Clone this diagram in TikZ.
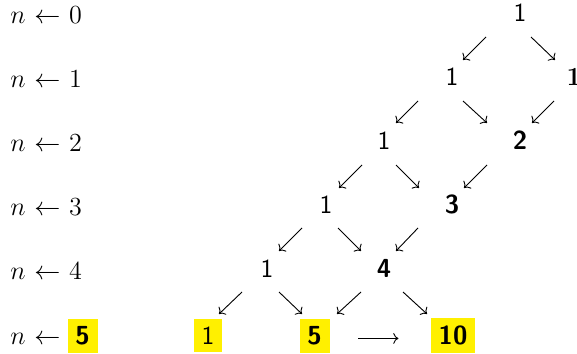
\documentclass[tikz,border=0pt,12pt]{standalone}
\usetikzlibrary{arrows.meta}
\definecolor{hl}{RGB}{255,240,0}
\begin{document}
\begin{tikzpicture}[x=0.46pt,y=-0.46pt,
  num/.style={inner sep=0pt, anchor=base, font=\sffamily},
  bnum/.style={inner sep=0pt, anchor=base, font=\sffamily\bfseries},
  rbnum/.style={inner sep=0pt, anchor=base, font=\rmfamily\bfseries},
  hbox/.style={fill=hl, inner sep=3.6pt, anchor=base},
  lab/.style={inner sep=0pt, anchor=base west},
  arr/.style={line width=0.42pt, -{To[length=2.4pt,width=5pt]}}]
\useasboundingbox (0,0) rectangle (577,354);

% row labels
\node[lab] (l0) at (10,23.5) {\thickmuskip=6mu $n\leftarrow 0$};
\node[lab] (l1) at (10,87.5) {\thickmuskip=6mu $n\leftarrow 1$};
\node[lab] (l2) at (10,151.5) {\thickmuskip=6mu $n\leftarrow 2$};
\node[lab] (l3) at (10,215.5) {\thickmuskip=6mu $n\leftarrow 3$};
\node[lab] (l4) at (10,279.5) {\thickmuskip=6mu $n\leftarrow 4$};
\node[lab] (l5) at (10,344.5) {\thickmuskip=6mu $n\leftarrow$};
\node[hbox, font=\sffamily\bfseries] (l5v) at (82.5,344.5) {5};

% tree numbers
\node[num]  (r0a) at (520,22) {1};
\node[num]  (r1a) at (452,86) {1};
\node[rbnum] (r1b) at (574,86) {1};
\node[num]  (r2a) at (384,150) {1};
\node[bnum] (r2b) at (520,150) {2};
\node[num]  (r3a) at (326,214) {1};
\node[bnum] (r3b) at (452,214) {3};
\node[num]  (r4a) at (267,278) {1};
\node[bnum] (r4b) at (384,278) {4};
\node[hbox, font=\sffamily] (r5a) at (208,344.5) {1};
\node[hbox, font=\sffamily\bfseries] (r5b) at (314.5,344.5) {5};
\node[hbox, font=\sffamily\bfseries] (r5c) at (453,344.5) {10};

% arrow end points
\coordinate (a01s) at (486,37);  \coordinate (a01e) at (463,60);
\coordinate (a02s) at (531,37);  \coordinate (a02e) at (555,60);
\coordinate (a11s) at (418,101); \coordinate (a11e) at (396,123);
\coordinate (a12s) at (463,101); \coordinate (a12e) at (487,123);
\coordinate (a13s) at (554,101); \coordinate (a13e) at (532,123);
\coordinate (a21s) at (362,165); \coordinate (a21e) at (339,188);
\coordinate (a22s) at (396,165); \coordinate (a22e) at (419,188);
\coordinate (a23s) at (487,165); \coordinate (a23e) at (464,188);
\coordinate (a31s) at (302,228); \coordinate (a31e) at (279,251);
\coordinate (a32s) at (338,228); \coordinate (a32e) at (361,251);
\coordinate (a33s) at (418,228); \coordinate (a33e) at (396,251);
\coordinate (a41s) at (242,292); \coordinate (a41e) at (219,314);
\coordinate (a42s) at (279,292); \coordinate (a42e) at (302,314);
\coordinate (a43s) at (361,292); \coordinate (a43e) at (337,314);
\coordinate (a44s) at (403,292); \coordinate (a44e) at (427,314);

\foreach \a in {01,02,11,12,13,21,22,23,31,32,33,41,42,43,44}
  \draw[arr] (a\a s) -- (a\a e);

% long arrow
\draw[arr, shorten <=13.1pt, shorten >=14.7pt]
  ([yshift=2.8pt]r5b.base east) -- ([yshift=2.8pt]r5c.base west);
\end{tikzpicture}
\end{document}
